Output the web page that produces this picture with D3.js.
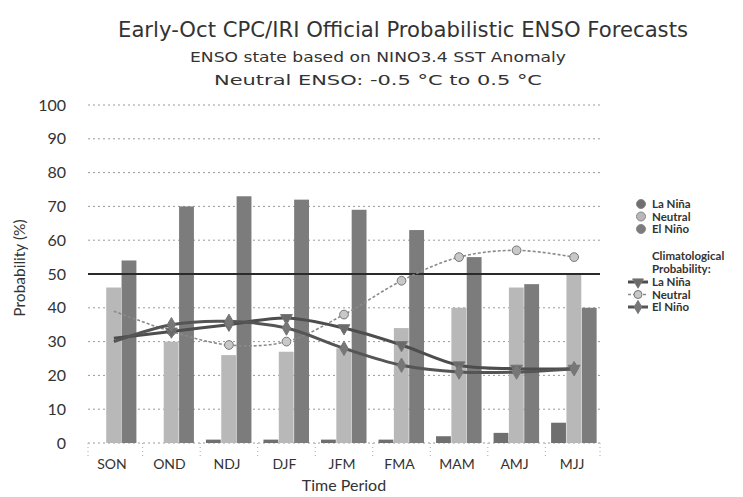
<!DOCTYPE html>
<html><head><meta charset="utf-8">
<script src="https://cdn.jsdelivr.net/npm/d3@7"></script>
<style>body{margin:0;background:#fff}svg{display:block}</style>
</head><body>
<svg id="c" width="743" height="497"></svg>
<script>
const categories = ["SON","OND","NDJ","DJF","JFM","FMA","MAM","AMJ","MJJ"];
const laNina  = [0, 0, 1, 1, 1, 1, 2, 3, 6];
const neutral = [46, 30, 26, 27, 28, 34, 40, 46, 50];
const elNino  = [54, 70, 73, 72, 69, 63, 55, 47, 40];
const climLaNina  = [31, 33, 35, 37, 34, 29, 23, 22, 22];
const climNeutral = [39, 33, 29, 30, 38, 48, 55, 57, 55];
const climElNino  = [30, 35, 36, 34, 28, 23, 21, 21, 22];
const yTicks = [0,10,20,30,40,50,60,70,80,90,100];
const seriesNames = ["La Niña","Neutral","El Niño"];

const svg = d3.select("#c");
const colBar = {"La Niña":"#6f6f6f","Neutral":"#b8b8b8","El Niño":"#7c7c7c"};

const x = d3.scaleBand().domain(categories).range([88,600]).paddingInner(0.2).paddingOuter(0.05);
const xs = d3.scaleBand().domain(seriesNames).range([0,x.bandwidth()]).padding(0);
const y = d3.scaleLinear().domain([0,100]).range([443,105]);

// titles
svg.append("text").attr("x",403).attr("y",37).attr("text-anchor","middle")
  .attr("font-family","DejaVu Sans").attr("font-size",20.5).attr("fill","#333")
  .attr("textLength",570).attr("lengthAdjust","spacingAndGlyphs")
  .text("Early-Oct CPC/IRI Official Probabilistic ENSO Forecasts");
svg.append("text").attr("x",378).attr("y",62).attr("text-anchor","middle")
  .attr("font-family","DejaVu Sans").attr("font-size",14).attr("fill","#333")
  .attr("textLength",376).attr("lengthAdjust","spacingAndGlyphs")
  .text("ENSO state based on NINO3.4 SST Anomaly");
svg.append("text").attr("x",378).attr("y",85).attr("text-anchor","middle")
  .attr("font-family","DejaVu Sans").attr("font-size",14).attr("fill","#333")
  .attr("textLength",328).attr("lengthAdjust","spacingAndGlyphs")
  .text("Neutral ENSO: -0.5 °C to 0.5 °C");

// grid
svg.append("g").selectAll("line").data(yTicks).join("line")
  .attr("x1",88).attr("x2",600).attr("y1",d=>y(d)).attr("y2",d=>y(d))
  .attr("stroke","#9a9a9a").attr("stroke-width",1).attr("stroke-dasharray","2,3");

// y axis labels
const yAxis = d3.axisLeft(y).tickValues(yTicks).tickSize(0).tickPadding(0);
const gy = svg.append("g").attr("transform","translate(66,0)").call(yAxis);
gy.select(".domain").remove();
gy.selectAll("text").attr("font-family","Lato").attr("font-size",16).attr("fill","#333");

// x axis labels
const xAxis = d3.axisBottom(x).tickSize(0).tickPadding(0);
const gx = svg.append("g").attr("transform","translate(-2,459)").call(xAxis);
gx.select(".domain").remove();
gx.selectAll("text").attr("font-family","Lato").attr("font-size",14).attr("fill","#333");

// vertical dotted boundary ticks below axis
const bounds = categories.slice(1).map(c=>x(c)-x.step()*x.paddingInner()/2);
svg.append("g").selectAll("line").data([88].concat(bounds).concat([600])).join("line")
  .attr("x1",d=>d).attr("x2",d=>d).attr("y1",443).attr("y2",456)
  .attr("stroke","#aaa").attr("stroke-dasharray","1,3");

// axis titles
svg.append("text").attr("x",344).attr("y",491).attr("text-anchor","middle")
  .attr("font-family","Lato").attr("font-size",16).attr("fill","#333").text("Time Period");
svg.append("text").attr("transform","translate(25,268) rotate(-90)").attr("text-anchor","middle")
  .attr("font-family","Lato").attr("font-size",15.5).attr("fill","#333").text("Probability (%)");

// bars
const rows = categories.map((c,i)=>({cat:c, vals:[
  {s:"La Niña",v:laNina[i]},{s:"Neutral",v:neutral[i]},{s:"El Niño",v:elNino[i]}]}));
const g = svg.append("g").selectAll("g").data(rows).join("g")
  .attr("transform",d=>`translate(${x(d.cat)},0)`);
g.selectAll("rect").data(d=>d.vals).join("rect")
  .attr("x",d=>xs(d.s)).attr("width",xs.bandwidth()-0.5)
  .attr("y",d=>y(d.v)).attr("height",d=>y(0)-y(d.v))
  .attr("fill",d=>colBar[d.s]);

// 50% reference line
svg.append("line").attr("x1",88).attr("x2",600).attr("y1",y(50)).attr("y2",y(50))
  .attr("stroke","#2a2a2a").attr("stroke-width",2);

// climatology lines
const cx = c=>x(c)+x.bandwidth()/2;
const lineGen = d3.line().x(d=>cx(d.c)).y(d=>y(d.v)).curve(d3.curveCatmullRom.alpha(0.5));
const clim = [
  {name:"Neutral", data:climNeutral, stroke:"#8a8a8a", w:1.6, dash:"3,2", sym:d3.symbolCircle, fill:"#c8c8c8", rot:0},
  {name:"La Niña", data:climLaNina, stroke:"#4d4d4d", w:3, dash:null, sym:d3.symbolTriangle, fill:"#6a6a6a", rot:180},
  {name:"El Niño", data:climElNino, stroke:"#555", w:3, dash:null, sym:d3.symbolDiamond, fill:"#777", rot:0}
];
clim.forEach(s=>{
  const pts = s.data.map((v,i)=>({c:categories[i],v}));
  svg.append("path").attr("d",lineGen(pts)).attr("fill","none")
    .attr("stroke",s.stroke).attr("stroke-width",s.w).attr("stroke-dasharray",s.dash);
  svg.append("g").selectAll("path").data(pts.slice(1)).join("path")
    .attr("d",d3.symbol().type(s.sym).size(60))
    .attr("transform",d=>`translate(${cx(d.c)},${y(d.v)}) rotate(${s.rot})`)
    .attr("fill",s.fill).attr("stroke","#777").attr("stroke-width",1);
});

// legend: bars
const lg = svg.append("g").attr("font-family","Lato").attr("font-weight","bold").attr("font-size",11.5).attr("fill","#333");
seriesNames.forEach((n,i)=>{
  const yy = 204 + i*12.5;
  lg.append("circle").attr("cx",641).attr("cy",yy).attr("r",4.5).attr("fill",colBar[n]).attr("stroke","#888");
  lg.append("text").attr("x",652).attr("y",yy+4).text(n);
});
lg.append("text").attr("x",652).attr("y",260).text("Climatological");
lg.append("text").attr("x",652).attr("y",273).text("Probability:");
const legOrder = ["La Niña","Neutral","El Niño"];
legOrder.forEach((n,i)=>{
  const s = clim.find(c=>c.name===n);
  const yy = 282 + i*12.5;
  lg.append("line").attr("x1",628).attr("x2",648).attr("y1",yy).attr("y2",yy)
    .attr("stroke",s.stroke).attr("stroke-width",s.w).attr("stroke-dasharray",s.dash);
  lg.append("path").attr("d",d3.symbol().type(s.sym).size(50))
    .attr("transform",`translate(638,${yy}) rotate(${s.rot})`).attr("fill",s.fill).attr("stroke","#777");
  lg.append("text").attr("x",652).attr("y",yy+4).text(n);
});
</script>
</body></html>
